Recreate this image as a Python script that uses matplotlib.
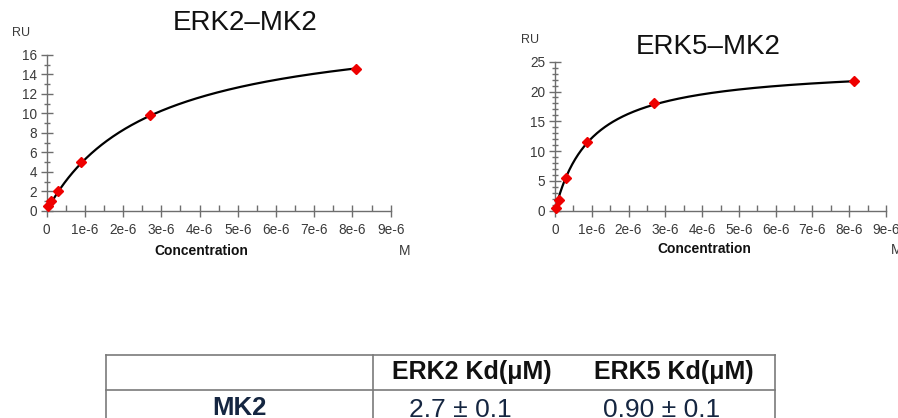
import numpy as np
import matplotlib
matplotlib.use("Agg")
import matplotlib.pyplot as plt
from matplotlib.ticker import FixedLocator, MultipleLocator
from matplotlib.lines import Line2D

plt.rcParams['font.family'] = ['Liberation Sans', 'DejaVu Sans']

# ---- data ----
erk2_conc = [0.033e-6, 0.1e-6, 0.3e-6, 0.9e-6, 2.7e-6, 8.1e-6]
erk2_ru = [0.5, 0.95, 2.05, 5.0, 9.85, 14.55]
erk5_conc = [0.036e-6, 0.11e-6, 0.3e-6, 0.87e-6, 2.68e-6, 8.12e-6]
erk5_ru = [0.4, 1.85, 5.45, 11.5, 18.15, 21.75]

# fitted 1:1 binding model parameters (Kd in M, Rmax in RU)
erk2_fit_kd, erk2_fit_rmax = 2.7e-6, 19.5
erk5_fit_kd, erk5_fit_rmax = 1.0e-6, 24.4

x_ticks = [0, 1e-6, 2e-6, 3e-6, 4e-6, 5e-6, 6e-6, 7e-6, 8e-6, 9e-6]
x_tick_labels = ["0", "1e-6", "2e-6", "3e-6", "4e-6", "5e-6", "6e-6", "7e-6", "8e-6", "9e-6"]
erk2_y_ticks = [0, 2, 4, 6, 8, 10, 12, 14, 16]
erk5_y_ticks = [0, 5, 10, 15, 20, 25]

titles = ["ERK2\u2013MK2", "ERK5\u2013MK2"]
table_header = ["", "ERK2 Kd(\u03bcM)", "ERK5 Kd(\u03bcM)"]
table_row = ["MK2", "2.7 \u00b1 0.1", "0.90 \u00b1 0.1"]

W, H = 898, 418
fig = plt.figure(figsize=(W / 100, H / 100), dpi=100)
fig.patch.set_facecolor('white')

def fx(px):
    return px / W

def fy(py):
    return 1 - py / H

AX_COL = '#6e6e6e'
TXT_COL = '#3a3a3a'
NAVY = '#152641'

def make_panel(rect, conc, ru, kd, rmax, yticks, ymax, yminor):
    ax = fig.add_axes(rect)
    ax.set_xlim(0, 9e-6)
    ax.set_ylim(0, ymax)
    for s in ['top', 'right']:
        ax.spines[s].set_visible(False)
    for s in ['left', 'bottom']:
        ax.spines[s].set_color(AX_COL)
        ax.spines[s].set_linewidth(1.0)
    ax.xaxis.set_major_locator(FixedLocator(x_ticks))
    ax.set_xticklabels(x_tick_labels)
    ax.xaxis.set_minor_locator(MultipleLocator(0.5e-6))
    ax.yaxis.set_major_locator(FixedLocator(yticks))
    ax.set_yticklabels([str(v) for v in yticks])
    ax.yaxis.set_minor_locator(MultipleLocator(yminor))
    ax.tick_params(axis='x', which='major', direction='inout', length=9, width=1,
                   color=AX_COL, labelsize=9.8, labelcolor=TXT_COL, pad=4.5)
    ax.tick_params(axis='x', which='minor', direction='in', length=4, width=1, color=AX_COL)
    ax.tick_params(axis='y', which='major', direction='inout', length=8, width=1,
                   color=AX_COL, labelsize=9.8, labelcolor=TXT_COL, pad=3)
    ax.tick_params(axis='y', which='minor', direction='inout', length=4, width=1, color=AX_COL)
    xs = np.linspace(conc[0], conc[-1], 300)
    ax.plot(xs, rmax * xs / (kd + xs), color='black', lw=1.6, zorder=2)
    ax.plot(conc, ru, linestyle='none', marker='D', markersize=5.5,
            color='#ee0000', markeredgecolor='#ee0000', zorder=3, clip_on=False)
    return ax

# left panel: x 46.7..390.7 px, y 55..210.7 px
make_panel([fx(46.7), fy(210.7), (390.7 - 46.7) / W, (210.7 - 55) / H],
           erk2_conc, erk2_ru, erk2_fit_kd, erk2_fit_rmax, erk2_y_ticks, 16, 1)
# right panel: x 555..886 px, y 61.7..210.7 px
make_panel([fx(555), fy(210.7), (886 - 555) / W, (210.7 - 61.7) / H],
           erk5_conc, erk5_ru, erk5_fit_kd, erk5_fit_rmax, erk5_y_ticks, 25, 1)

# titles and axis texts
fig.text(fx(245), fy(23), titles[0], fontsize=20, ha='center', va='center', color='#111111')
fig.text(fx(708), fy(47), titles[1], fontsize=20, ha='center', va='center', color='#111111')
fig.text(fx(21), fy(33), "RU", fontsize=9, ha='center', va='center', color=TXT_COL)
fig.text(fx(530), fy(40), "RU", fontsize=9, ha='center', va='center', color=TXT_COL)
fig.text(fx(201), fy(251), "Concentration", fontsize=10, fontweight='bold',
         ha='center', va='center', color='#111111')
fig.text(fx(704), fy(249), "Concentration", fontsize=10, fontweight='bold',
         ha='center', va='center', color='#111111')
fig.text(fx(405), fy(251), "M", fontsize=10, ha='center', va='center', color=TXT_COL)
fig.text(fx(897), fy(250), "M", fontsize=10, ha='center', va='center', color=TXT_COL)

# table
LINE_COL = '#7a7a7a'
tl, tm, tr = 106, 373, 775
ttop, tmid = 355, 390
def hline(y, x0, x1):
    fig.add_artist(Line2D([fx(x0), fx(x1)], [fy(y), fy(y)], color=LINE_COL, lw=1.2))
def vline(x, y0, y1):
    fig.add_artist(Line2D([fx(x), fx(x)], [fy(y0), fy(y1)], color=LINE_COL, lw=1.2))
hline(ttop, tl, tr)
hline(tmid, tl, tr)
vline(tl, ttop, 420)
vline(tm, ttop, 420)
vline(tr, ttop, 420)

fig.text(fx(472), fy(372), table_header[1], fontsize=18, fontweight='bold',
         ha='center', va='center', color='#111111')
fig.text(fx(674), fy(372), table_header[2], fontsize=18, fontweight='bold',
         ha='center', va='center', color='#111111')
fig.text(fx(239), fy(408), table_row[0], fontsize=18.5, fontweight='bold',
         ha='center', va='center', color=NAVY)
fig.text(fx(460), fy(410), table_row[1], fontsize=19, ha='center', va='center', color=NAVY)
fig.text(fx(662), fy(410), table_row[2], fontsize=19, ha='center', va='center', color=NAVY)

fig.savefig("out.png", dpi=100, facecolor='white')
